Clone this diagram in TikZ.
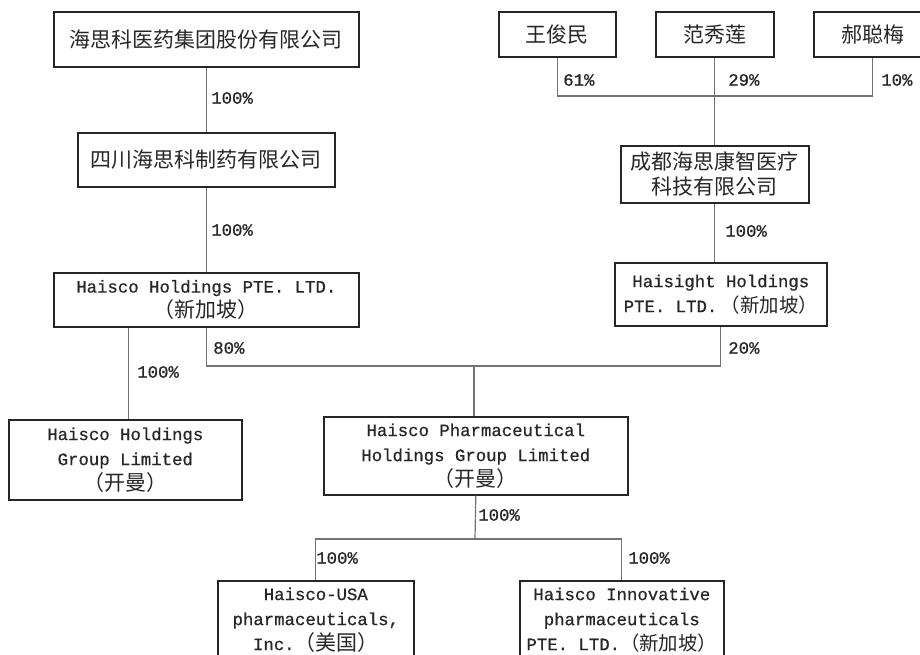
\documentclass[tikz,border=0pt]{standalone}
\usepackage{fontspec}
\setmainfont{Liberation Mono}[UprightFeatures={FakeBold=0.6}]
\newfontfamily\cjk[Scale=1.21]{Noto Sans CJK SC}
\newfontfamily\cjks[Scale=1.12]{Noto Sans CJK SC}
\usetikzlibrary{calc}
\tikzset{
  box/.style={draw=black!85, line width=1.2pt, anchor=north west, align=center,
    inner sep=0pt, text=black!85,
    font=\fontsize{13pt}{18.75pt}\selectfont},
  conn/.style={draw=black!55, line width=0.9pt},
  pct/.style={anchor=west, inner sep=0pt, text=black!85, font=\fontsize{13pt}{15pt}\selectfont}
}
\begin{document}
\begin{tikzpicture}[x=0.75pt,y=-0.75pt]
\useasboundingbox (0,0) rectangle (920,655);
\clip (0,0) rectangle (920,655);
\fill[white] (0,0) rectangle (920,655);
% boxes
\node[box, minimum width=228.75pt, minimum height=41.25pt] (b1) at (53,11) {\cjk 海思科医药集团股份有限公司};
\node[box, minimum width=192.75pt, minimum height=40.5pt] (b2) at (77,132) {\cjk 四川海思科制药有限公司};
\node[box, minimum width=228.75pt, minimum height=40.5pt] (b3) at (53,272) {Haisco Holdings PTE. LTD.\\{\cjk （新加坡）}};
\node[box, minimum width=87.75pt, minimum height=33.75pt] (p1) at (498,11) {\cjk 王俊民};
\node[box, minimum width=88.5pt, minimum height=33.75pt] (p2) at (655,11) {\cjk 范秀莲};
\node[box, minimum width=88.5pt, minimum height=33.75pt] (p3) at (813,11) {\cjk 郝聪梅};
\node[box, minimum width=141pt, minimum height=42.75pt] (c) at (620,145) {\cjk 成都海思康智医疗\\\cjk 科技有限公司};
\node[box, minimum width=159pt, minimum height=47.25pt] (hs) at (614,262) {Haisight Holdings\\PTE. LTD.\hspace{0.2em}{\cjks （新加坡）}};
\node[box, minimum width=174.75pt, minimum height=60pt] (hhgl) at (8,419) {Haisco Holdings\\Group Limited\\{\cjk （开曼）}};
\node[box, minimum width=228pt, minimum height=58.5pt] (hphgl) at (323,416) {Haisco Pharmaceutical\\Holdings Group Limited\\{\cjk （开曼）}};
\node[box, minimum width=147pt, minimum height=58.5pt] (usa) at (217,580) {Haisco-USA\\pharmaceuticals,\\Inc.{\cjk （美国）}};
\node[box, minimum width=153pt, minimum height=58.5pt] (inno) at (519,580) {Haisco Innovative\\pharmaceuticals\\PTE. LTD.{\cjks （新加坡）}};
% connectors
\draw[conn] (b1.south) -- (b2.north);
\draw[conn] (b2.south) -- (b3.north);
\coordinate (jp) at (714,96);
\draw[conn] (p1.south) |- (jp) -| (p3.south);
\draw[conn] (p2.south) -- (c.north);
\draw[conn] (c.south) -- (c.south |- hs.north);
\path (hhgl.north) ++(3.5,0) coordinate (hhglt);
\draw[conn] (hhglt |- b3.south) -- (hhglt);
\coordinate (jm) at (474,366);
\draw[conn] (b3.south) |- (jm) -| (hs.south);
\draw[conn] (jm) -- (jm |- hphgl.north);
\coordinate (jb) at (475,539);
\draw[conn] (hphgl.south) -- (jb);
\draw[conn] (usa.north) |- (jb) -| (inno.north);
% labels
\node[pct] (l1) at (211,98) {100\%};
\node[pct] (l2) at (211,230) {100\%};
\node[pct] (l3) at (563,80) {61\%};
\node[pct] (l4) at (728,80) {29\%};
\node[pct] (l5) at (881,80) {10\%};
\node[pct] (l6) at (725,231) {100\%};
\node[pct] (l7) at (213,348) {80\%};
\node[pct] (l8) at (728,348) {20\%};
\node[pct] (l9) at (137,372) {100\%};
\node[pct] (l10) at (478,515) {100\%};
\node[pct] (l11) at (316,558) {100\%};
\node[pct] (l12) at (628,558) {100\%};
\end{tikzpicture}
\end{document}
